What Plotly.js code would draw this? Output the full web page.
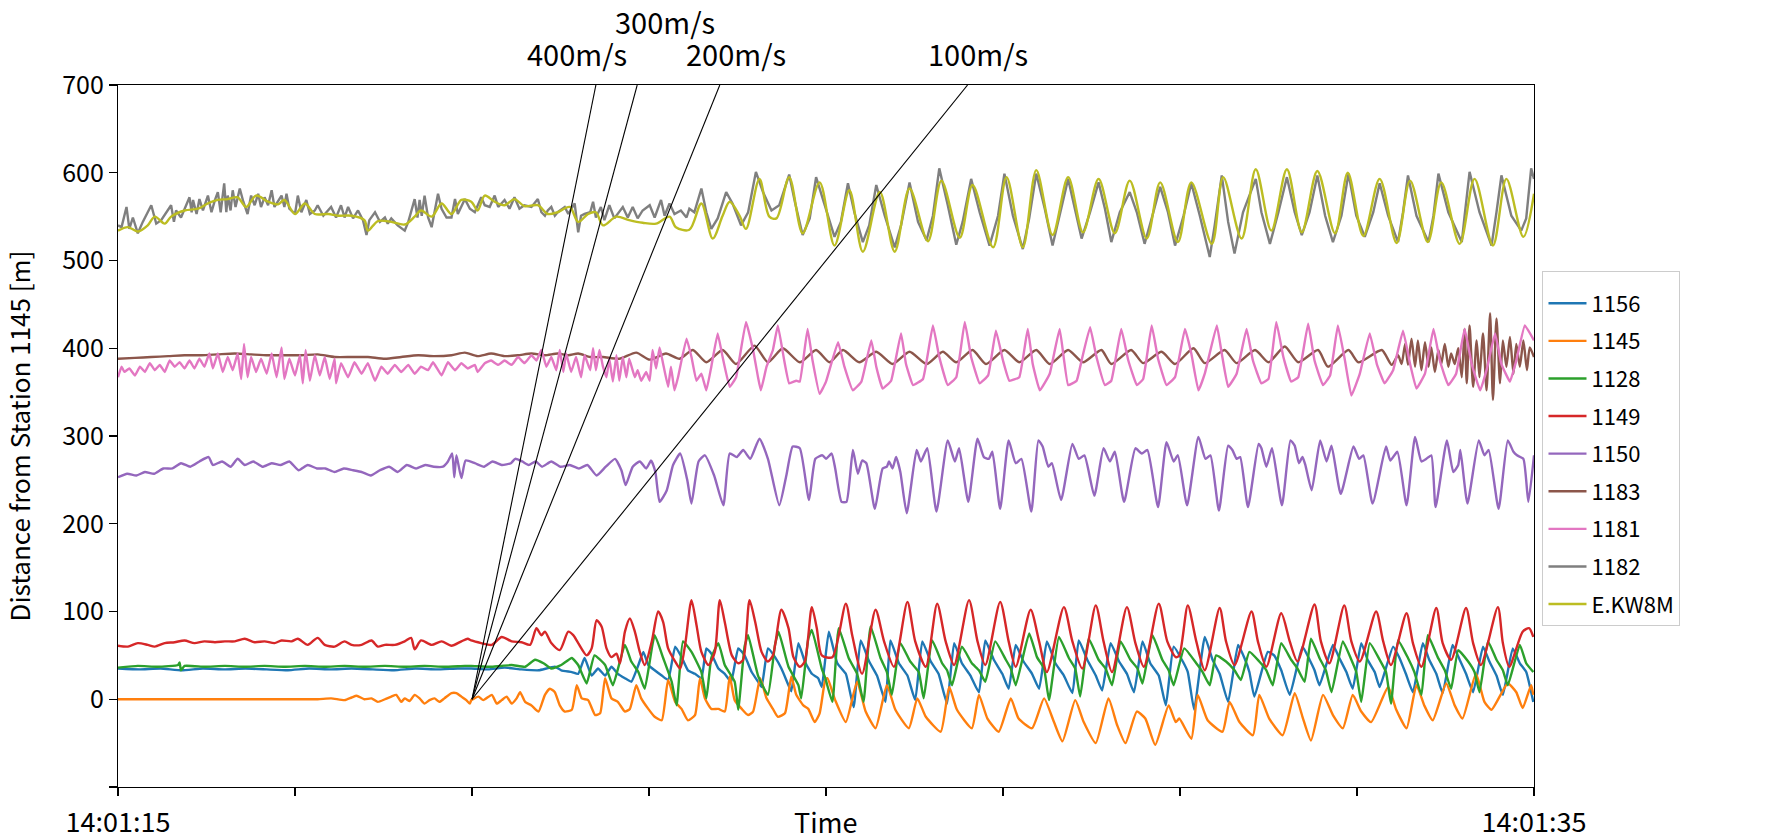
<!DOCTYPE html>
<html>
<head>
<meta charset="utf-8">
<script src="https://cdn.plot.ly/plotly-3.0.1.min.js"></script>
<style>html,body{margin:0;padding:0;background:#fff;}#chart{width:1769px;height:840px;}</style>
</head>
<body>
<div id="chart"></div>
<script>
// Time in seconds after 14:01:15, distance in metres from station 1145
const seriesNames = ['1156','1145','1128','1149','1150','1183','1181','1182','E.KW8M'];
const seriesColors = ['#1f77b4','#ff7f0e','#2ca02c','#d62728','#9467bd','#8c564b','#e377c2','#7f7f7f','#bcbd22'];

const t_1156 = [0,0.3,0.6,0.9,1.2,1.5,1.8,2.1,2.4,2.7,3.0,3.3,3.6,3.9,4.2,4.5,4.8,
4.99,5.23,5.46,5.70,5.94,6.17,6.26,6.41,6.50,6.59,6.69,6.78,6.88,6.97,7.06,7.16,7.25,7.35,7.42,7.49,7.58,7.68,7.77,7.87,7.96,8.05,8.15,8.24,8.31,8.38,8.48,8.57,8.66,8.76,8.85,8.95,9.04,9.09,9.18,9.28,9.37,9.47,9.51,9.61,9.70,9.80,9.89,9.94,
10.04,10.16,10.28,10.39,10.49,10.61,10.72,10.84,10.91,11.03,11.15,11.26,11.36,11.48,11.59,11.71,11.81,11.92,12.04,12.16,12.25,12.37,12.49,12.58,12.68,12.79,12.91,13.01,13.12,13.24,13.36,13.48,13.57,13.69,13.81,13.90,14.02,14.14,14.25,14.35,14.47,14.58,14.70,14.80,14.91,
15.04,15.11,15.20,15.35,15.46,15.56,15.68,15.82,15.91,15.98,16.05,16.24,16.33,16.43,16.55,16.73,16.83,16.90,16.97,17.16,17.25,17.35,17.44,17.56,17.65,17.75,17.82,18.01,18.10,18.19,18.29,18.43,18.52,18.62,18.71,18.85,18.95,19.04,19.14,19.28,19.37,19.47,19.56,19.70,19.80,19.89,19.99];
const d_1156 = [35,34,35,33,35,34,35,34,33,35,34,35,34,33,35,34,35,
35,34,36,34,33,37,33,31,29,47,27,35,27,37,29,24,20,39,54,39,33,27,22,60,48,33,29,24,58,52,35,29,20,58,50,31,20,14,58,48,35,16,9,64,43,29,24,14,
77,41,29,-9,67,43,27,-3,67,41,27,-1,66,43,29,-5,64,41,27,8,67,45,29,12,62,43,29,12,66,41,27,7,67,45,27,10,64,43,29,8,66,41,27,-7,60,
43,31,-12,71,45,29,-3,62,47,31,3,54,50,33,5,60,45,33,16,62,47,31,12,64,45,31,14,60,47,29,8,64,45,29,7,62,45,29,8,60,43,27,5,58,41,31,-3];

const t_1145 = [0,0.47,0.94,1.41,1.88,2.35,2.82,3.01,3.20,3.30,3.37,3.48,3.58,3.67,3.77,3.86,3.93,4.00,4.05,4.12,4.19,4.26,4.33,4.40,4.47,4.54,4.61,4.71,4.78,4.85,4.92,4.97,
4.99,5.09,5.16,5.28,5.35,5.42,5.49,5.56,5.63,5.68,5.75,5.84,5.94,6.03,6.10,6.17,6.24,6.31,6.41,6.48,6.55,6.64,6.74,6.81,6.88,6.97,7.06,7.16,7.23,7.32,7.39,7.49,7.58,7.68,7.77,7.87,7.96,8.05,8.15,8.22,8.29,8.38,8.48,8.57,8.64,8.71,8.81,8.90,8.97,9.07,9.16,9.25,9.32,9.42,9.51,9.58,9.68,9.75,9.84,9.91,9.99,
10.02,10.13,10.28,10.44,10.56,10.70,10.86,10.98,11.17,11.29,11.41,11.62,11.74,11.85,12.06,12.16,12.28,12.44,12.61,12.72,12.91,13.08,13.22,13.34,13.52,13.64,13.81,13.99,14.11,14.23,14.39,14.51,14.65,14.84,14.94,
14.99,15.16,15.25,15.39,15.60,15.70,15.84,16.03,16.12,16.26,16.45,16.62,16.73,16.85,17.02,17.16,17.30,17.44,17.56,17.70,17.94,18.05,18.20,18.34,18.45,18.57,18.76,18.88,18.99,19.18,19.30,19.40,19.63,19.75,19.84,19.96,19.99];
const d_1145 = [0,0,0,0,0,0,0,1,-1,2,4,0,1,-3,0,3,5,-3,1,-2,5,1,-5,-1,1,-3,1,7,7,3,-1,-5,
-1,3,-1,5,-5,-1,3,-5,1,8,-3,-7,-14,5,12,8,-7,-14,-12,16,1,-1,-18,-16,24,1,-3,-14,-11,16,1,-11,-20,-24,22,-3,-11,-24,-18,24,1,-11,-11,-14,26,-1,-11,-18,-14,24,1,-11,-20,-16,26,5,-7,-11,-26,-16,22,
24,-1,-26,20,-14,-33,16,-12,-33,1,-20,-37,14,-12,-33,5,-22,-37,1,-22,-33,1,-26,-48,-1,-26,-50,1,-29,-50,-14,-22,-52,-7,-26,
-22,-45,5,-24,-37,-3,-26,-41,5,-22,-41,7,-20,-47,5,-18,-33,5,-14,-26,14,-11,-33,16,-7,-24,18,-7,-22,29,-3,-12,18,8,-10,16,5];

const t_1128 = [0,0.28,0.56,0.85,0.87,0.89,0.94,1.22,1.51,1.79,2.07,2.35,2.64,2.92,3.20,3.48,3.77,4.05,4.33,4.61,4.90,
4.99,5.28,5.56,5.75,5.89,6.01,6.12,6.26,6.41,6.50,6.62,6.73,6.88,6.99,7.16,7.25,7.35,7.44,7.58,7.70,7.82,7.89,7.98,8.10,8.24,8.31,8.38,8.48,8.57,8.71,8.76,8.85,8.90,9.04,9.18,9.28,9.33,9.47,9.61,9.65,9.75,9.80,9.94,
9.99,10.09,10.18,10.32,10.44,10.53,10.63,10.77,10.86,10.93,11.05,11.19,11.31,11.38,11.50,11.64,11.71,11.78,11.92,12.06,12.16,12.25,12.39,12.54,12.61,12.68,12.87,12.98,13.08,13.15,13.29,13.43,13.52,13.59,13.71,13.85,13.95,14.04,14.16,14.30,14.40,14.47,14.61,14.75,14.84,14.91,
15.06,15.23,15.32,15.42,15.51,15.65,15.77,15.86,15.98,16.12,16.22,16.31,16.43,16.57,16.66,16.76,16.85,16.97,17.06,17.14,17.30,17.42,17.49,17.56,17.68,17.82,17.91,17.98,18.08,18.22,18.31,18.41,18.50,18.64,18.74,18.83,18.93,19.07,19.16,19.23,19.35,19.47,19.56,19.63,19.80,19.89,19.99];
const d_1128 = [36,38,37,39,42,33,38,37,38,37,38,37,38,37,38,37,38,37,38,37,38,
38,37,39,37,45,41,35,39,47,39,18,50,39,16,62,43,31,12,73,47,20,-7,66,54,31,1,47,64,39,20,-12,60,73,27,5,62,77,37,16,1,69,79,35,
24,-3,81,47,29,-3,83,47,31,5,64,43,31,1,67,41,33,16,60,41,33,20,66,45,35,16,75,48,35,-1,71,47,35,3,69,45,35,16,66,45,35,18,73,45,33,16,
58,41,31,16,50,43,33,22,54,43,33,16,64,45,35,20,69,47,33,8,66,45,31,-3,64,45,31,-5,67,47,31,5,73,48,33,12,56,43,31,8,66,45,33,16,62,41,31];

const t_1149 = [0,0.14,0.28,0.42,0.52,0.66,0.80,0.94,1.08,1.22,1.37,1.51,1.65,1.79,1.93,2.07,2.21,2.31,2.45,2.54,2.68,2.82,2.92,3.06,3.20,3.30,3.44,3.58,3.67,3.77,3.91,4.05,4.14,4.19,4.28,4.43,4.57,4.71,4.85,4.94,
4.99,5.13,5.28,5.42,5.56,5.70,5.82,5.91,5.98,6.03,6.12,6.24,6.36,6.43,6.50,6.62,6.69,6.76,6.83,6.90,6.97,7.04,7.09,7.16,7.23,7.30,7.37,7.44,7.54,7.63,7.70,7.77,7.87,7.94,8.01,8.10,8.17,8.24,8.34,8.43,8.50,8.57,8.67,8.76,8.83,8.92,9.00,9.09,9.18,9.25,9.37,9.47,9.54,9.63,9.70,9.80,9.87,9.94,
10.09,10.28,10.37,10.51,10.70,10.82,10.96,11.15,11.26,11.41,11.57,11.69,11.81,12.02,12.14,12.25,12.46,12.58,12.68,12.89,13.01,13.12,13.36,13.48,13.62,13.81,13.92,14.04,14.25,14.37,14.49,14.70,14.82,14.94,
14.99,15.11,15.23,15.35,15.56,15.65,15.77,16.01,16.10,16.22,16.43,16.55,16.66,16.90,16.99,17.11,17.32,17.42,17.54,17.77,17.87,17.98,18.20,18.29,18.41,18.62,18.71,18.83,19.04,19.14,19.25,19.49,19.56,19.65,19.84,19.93,19.99];
const d_1149 = [61,60,64,62,60,64,65,67,64,66,65,66,66,69,65,66,64,67,66,69,62,70,62,60,66,62,62,67,60,62,62,66,70,57,67,62,66,61,66,69,
67,64,62,71,66,65,62,81,73,77,64,56,77,73,64,50,58,90,83,58,48,52,41,77,92,77,54,39,66,100,88,58,43,35,62,113,85,54,39,54,113,88,50,41,45,113,88,54,43,50,102,81,48,37,43,105,81,50,
48,109,73,29,102,66,37,111,66,37,109,66,39,113,66,39,111,66,37,102,66,31,105,66,35,107,66,31,105,64,37,109,66,48,
50,107,66,33,104,66,39,100,66,37,98,66,43,108,66,41,107,66,43,100,66,39,98,64,37,104,64,45,104,64,39,105,64,37,77,81,71];

const t_1150 = [0,0.13,0.26,0.38,0.51,0.64,0.77,0.89,1.02,1.15,1.28,1.34,1.47,1.59,1.69,1.79,1.91,2.04,2.17,2.30,2.42,2.55,2.68,2.81,2.93,3.06,3.19,3.32,3.44,3.57,3.70,3.83,3.95,4.08,4.21,4.34,4.46,4.59,4.66,4.72,4.75,4.78,4.85,4.91,5.04,5.17,5.29,5.42,5.55,5.61,5.71,5.80,5.90,5.99,6.12,6.25,6.38,6.51,6.63,6.76,6.89,7.02,7.11,7.17,7.27,7.37,7.46,7.53,7.59,7.65,7.75,7.84,7.94,8.04,8.10,8.20,8.29,8.42,8.55,8.64,8.74,8.83,8.93,9.06,9.18,9.34,9.44,9.53,9.63,9.76,9.85,9.95,
10.00,10.08,10.13,10.22,10.29,10.38,10.45,10.51,10.57,10.69,10.80,10.86,10.89,10.94,10.99,11.05,11.14,11.28,11.34,11.43,11.56,11.72,11.82,11.88,12.01,12.14,12.23,12.30,12.35,12.46,12.58,12.68,12.76,12.90,13.00,13.06,13.14,13.19,13.32,13.48,13.57,13.65,13.79,13.92,14.01,14.08,14.21,14.37,14.46,14.54,14.69,14.81,14.91,14.97,15.10,15.26,15.36,15.43,15.55,15.68,15.74,15.80,15.85,15.96,16.11,16.15,16.22,16.30,16.44,16.56,16.62,16.68,16.73,16.77,16.86,16.98,17.07,17.14,17.27,17.45,17.53,17.59,17.72,17.91,17.97,18.07,18.20,18.32,18.41,18.48,18.55,18.61,18.77,18.86,18.93,18.96,19.06,19.22,19.30,19.36,19.50,19.63,19.71,19.76,19.85,19.92,20.0];
const d_1150 = [253,257,255,259,257,263,263,269,265,271,276,267,271,265,274,267,271,265,269,267,271,261,267,263,263,259,263,261,259,255,261,265,259,267,263,267,265,265,271,280,253,278,252,272,269,265,271,267,269,274,271,267,271,265,271,265,267,263,267,255,265,274,261,244,265,271,263,272,259,225,238,267,280,250,223,271,278,255,221,280,276,284,274,297,274,221,255,288,286,227,274,278,
274,280,263,225,225,284,257,272,269,217,263,265,271,263,276,259,212,284,271,286,214,295,271,286,225,297,276,274,282,217,295,269,274,214,295,288,265,269,227,291,274,278,232,286,271,282,225,286,280,284,219,293,271,278,221,299,274,278,215,289,284,274,276,219,291,286,265,286,221,295,289,269,276,267,238,295,271,289,234,288,274,278,223,288,272,282,221,299,271,274,278,219,295,259,267,284,223,295,278,284,217,295,282,278,274,225,278];

const t_1183 = [0,0.24,0.47,0.71,0.94,1.18,1.41,1.65,1.88,2.12,2.35,2.59,2.82,3.06,3.30,3.53,3.77,4.00,4.24,4.47,4.71,4.90,5.08,5.27,5.46,5.65,5.84,6.03,6.21,6.36,6.50,6.67,
6.85,7.08,7.32,7.51,7.74,7.93,8.12,8.31,8.54,8.73,8.99,9.18,9.39,9.63,9.86,10.05,10.24,10.47,10.71,10.94,11.18,11.42,11.65,11.84,12.07,12.26,12.52,12.73,12.97,13.16,
13.42,13.63,13.89,14.03,14.31,14.48,14.74,14.93,15.19,15.35,15.63,15.80,16.06,16.25,16.48,16.67,16.95,17.09,17.38,17.52,17.85,17.99,
18.08,18.13,18.18,18.22,18.27,18.32,18.36,18.41,18.46,18.51,18.55,18.60,18.65,18.69,18.74,18.79,18.83,18.88,18.93,18.98,19.02,19.05,19.09,19.14,19.19,19.23,19.28,19.33,19.38,19.42,19.47,19.52,19.56,19.61,19.66,19.71,19.75,19.80,19.85,19.90,19.94,20.0];
const d_1183 = [388,389,390,391,392,392,393,394,393,392,392,392,393,390,390,390,388,390,392,391,392,395,391,394,391,392,394,392,394,392,394,390,
390,388,395,387,394,388,398,384,398,382,403,384,400,384,398,384,398,384,396,382,396,382,396,384,398,382,398,384,398,382,
398,384,398,382,398,383,396,382,400,383,398,383,398,384,402,384,398,379,398,384,398,381,
392,382,405,381,411,379,409,375,407,379,401,373,398,382,405,379,394,382,400,367,422,360,426,356,409,367,417,352,440,341,434,360,409,379,413,371,405,379,409,375,401,390];

const t_1181 = [0,0.05,0.09,0.16,0.24,0.31,0.38,0.45,0.52,0.59,0.66,0.73,0.80,0.87,0.94,1.01,1.08,1.15,1.22,1.29,1.34,1.41,1.48,1.55,1.62,1.69,1.74,1.78,1.83,1.88,1.95,2.02,2.10,2.17,2.24,2.31,2.35,2.42,2.50,2.57,2.61,2.65,2.71,2.78,2.85,2.92,2.99,3.06,3.08,3.15,3.25,3.34,3.44,3.53,3.63,3.72,3.81,3.91,4.00,4.10,4.19,4.28,4.38,4.45,4.57,4.66,4.76,4.85,4.94,5.04,5.08,5.18,5.27,5.37,5.46,5.56,5.65,5.74,5.84,5.91,5.98,6.05,6.12,6.19,6.24,6.29,6.33,6.40,6.47,6.54,6.59,6.67,
6.71,6.75,6.80,6.85,6.90,6.94,6.99,7.04,7.08,7.13,7.18,7.22,7.30,7.34,7.39,7.46,7.51,7.55,7.60,7.65,7.70,7.77,7.81,7.86,7.91,8.03,8.10,8.17,8.24,8.31,8.38,8.47,8.54,8.64,8.73,8.87,8.97,9.04,9.08,9.16,9.25,9.32,9.41,9.48,9.58,9.63,9.74,9.81,9.91,10.00,10.17,10.26,10.38,10.50,10.64,10.71,10.80,10.92,11.06,11.13,11.23,11.37,11.51,11.60,11.72,11.84,11.96,12.05,12.17,12.29,12.40,12.50,12.59,12.73,12.85,12.92,13.02,13.16,13.30,
13.42,13.54,13.61,13.73,13.82,13.94,14.03,14.17,14.27,14.39,14.48,14.60,14.69,14.81,14.93,15.07,15.16,15.26,15.35,15.52,15.59,15.68,15.80,15.94,16.03,16.15,16.25,16.36,16.46,16.57,16.67,16.81,16.90,17.02,17.12,17.23,17.33,17.42,17.54,17.68,17.78,17.89,18.01,18.15,18.25,18.34,18.46,18.58,18.67,18.79,18.90,19.02,19.12,19.24,19.33,19.45,19.54,19.66,19.75,19.87,20.0];
const d_1181 = [367,379,373,377,369,379,373,383,375,381,373,386,379,384,377,386,377,388,379,394,377,394,373,390,375,394,365,405,367,390,373,388,371,394,367,401,365,388,369,392,360,398,363,392,369,390,365,388,360,383,367,384,371,383,363,379,371,381,373,381,371,379,375,384,369,384,375,383,377,381,373,383,386,381,386,381,390,383,392,386,398,379,390,375,398,373,394,373,390,367,392,375,
400,375,398,379,367,388,362,392,363,390,367,388,367,375,363,373,363,398,377,401,382,356,379,352,367,411,390,363,371,352,379,417,390,356,367,430,398,367,352,379,398,426,386,360,363,362,422,386,348,362,407,379,352,362,409,379,354,363,417,382,358,365,426,390,358,367,430,390,360,369,420,386,363,367,422,382,352,371,422,
358,363,386,424,390,358,363,422,386,358,365,426,388,358,367,422,394,352,371,426,394,356,371,422,386,360,365,430,390,362,367,428,386,358,369,426,386,346,371,417,382,360,375,420,382,354,371,422,386,358,371,422,382,352,375,417,382,362,386,426,409];

const t_1182 = [0,0.05,0.12,0.16,0.21,0.28,0.35,0.47,0.54,0.61,0.75,0.79,0.82,0.89,1.01,1.04,1.06,1.11,1.15,1.20,1.27,1.32,1.37,1.41,1.45,1.50,1.53,1.55,1.59,1.62,1.66,1.72,1.77,1.83,1.88,1.93,1.98,2.02,2.07,2.12,2.17,2.21,2.31,2.35,2.38,2.42,2.50,2.54,2.59,2.66,2.71,2.78,2.82,2.90,3.01,3.08,3.15,3.20,3.25,3.32,3.39,3.46,3.51,3.55,3.63,3.70,3.77,3.81,3.86,3.95,4.05,4.10,4.19,4.23,4.26,4.29,4.33,4.38,4.43,4.47,4.52,4.57,4.64,4.71,4.76,4.80,4.90,4.97,5.04,5.13,5.18,5.25,5.32,5.37,5.46,5.53,5.60,5.67,5.74,5.84,5.93,5.98,6.03,6.07,6.12,6.17,6.21,6.31,6.36,6.45,6.50,6.54,6.59,6.67,
6.71,6.75,6.82,6.87,6.94,7.01,7.13,7.20,7.27,7.34,7.41,7.51,7.58,7.67,7.72,7.79,7.86,7.95,8.03,8.07,8.14,
8.24,8.31,8.38,8.47,8.59,8.68,8.80,8.90,9.01,9.11,9.23,9.34,9.48,9.56,9.67,9.77,9.86,9.98,10.12,10.21,10.31,10.40,10.52,10.61,10.71,10.83,10.97,11.06,11.18,11.30,11.42,11.51,11.60,11.72,11.84,11.93,12.05,12.17,12.31,12.43,12.52,12.64,12.78,12.87,12.97,13.09,13.20,
13.42,13.51,13.61,13.73,13.85,13.94,14.03,14.15,14.29,14.39,14.50,14.60,14.72,14.83,14.93,15.05,15.16,15.28,15.42,15.49,15.59,15.68,15.77,15.89,16.07,16.15,16.27,16.39,16.51,16.62,16.72,16.83,16.94,17.05,17.16,17.28,17.38,17.49,17.61,17.73,17.82,17.94,18.08,18.15,18.22,18.34,18.51,18.58,18.65,18.79,18.98,19.02,19.09,19.23,19.40,19.47,19.54,19.68,19.82,19.89,19.96,20.0];
const d_1182 = [540,538,561,536,549,531,544,563,542,546,563,544,557,549,572,555,569,553,570,557,574,555,569,578,555,588,555,574,557,580,561,582,567,553,574,563,576,561,572,563,580,561,574,561,576,559,553,574,555,569,553,557,563,551,561,549,563,549,561,548,557,546,529,546,555,544,549,542,548,540,534,544,570,549,569,551,574,549,538,555,576,559,549,549,570,553,570,559,555,572,563,561,574,561,569,559,572,559,563,561,570,555,551,557,561,551,555,561,553,565,532,551,553,555,
567,549,561,546,563,548,561,549,561,548,557,563,549,569,551,565,553,557,549,559,555,
582,555,536,548,578,565,540,555,601,578,557,563,598,567,529,548,595,563,527,544,588,555,521,540,586,551,515,540,589,544,523,551,605,563,518,544,593,555,517,551,599,551,513,548,599,559,517,
593,559,525,555,589,559,521,555,578,555,519,548,584,555,517,551,588,551,504,540,597,544,508,555,593,555,519,555,595,555,529,555,597,551,521,551,599,551,527,555,588,551,521,555,597,551,521,551,599,555,521,551,601,555,517,555,597,551,534,548,605,593];

const t_EKW8M = [0,0.14,0.28,0.42,0.52,0.66,0.75,0.94,1.13,1.27,1.41,1.55,1.69,1.81,1.95,2.12,2.26,2.35,2.50,2.64,2.78,2.97,3.11,3.30,3.48,3.53,3.67,3.86,4.05,4.19,4.28,4.43,4.57,4.71,4.85,4.99,5.08,5.18,5.32,5.46,5.60,5.74,5.93,6.07,6.21,6.38,6.50,6.64,
6.75,6.85,7.04,7.22,7.41,7.60,7.79,7.88,8.07,8.24,8.40,8.54,8.64,8.78,8.87,9.06,9.20,9.30,9.48,9.67,9.91,10.12,10.33,10.52,10.76,10.97,11.18,11.44,11.63,11.89,12.07,12.36,12.55,12.78,12.97,13.20,
13.42,13.63,13.85,14.08,14.29,14.53,14.72,14.97,15.16,15.45,15.61,15.87,16.07,16.29,16.51,16.72,16.94,17.19,17.37,17.59,17.82,18.06,18.25,18.50,18.69,18.95,19.16,19.42,19.61,19.85,20.0];
const d_EKW8M = [534,538,533,540,550,542,550,557,559,565,569,570,572,561,574,567,564,569,553,565,553,553,551,551,546,534,545,544,541,550,557,550,565,553,569,567,557,574,567,563,570,562,563,553,555,561,544,553,
555,540,550,546,543,542,550,538,535,565,525,551,567,551,536,593,550,548,595,531,589,517,580,510,578,510,582,522,591,526,586,515,595,515,603,529,
595,532,593,531,591,525,589,521,589,519,595,525,604,534,604,532,602,531,600,528,593,520,591,521,589,519,593,517,593,527,576];

// Apparent propagation velocities drawn from the 1145 onset
const velocities = [400, 300, 200, 100];
const velocityLabels = ['400m/s', '300m/s', '200m/s', '100m/s'];
const onsetTime = 5;       // 14:01:20
const onsetDistance = 0;
const topDistance = 700;

// axis ticks
const xTickVals = [0, 2.5, 5, 7.5, 10, 12.5, 15, 17.5, 20];
const xTickText = ['14:01:15', '', '', '', '', '', '', '', '14:01:35'];
const yTickVals = [-100, 0, 100, 200, 300, 400, 500, 600, 700];
const yTickText = ['', '0', '100', '200', '300', '400', '500', '600', '700'];

const seriesT = [t_1156, t_1145, t_1128, t_1149, t_1150, t_1183, t_1181, t_1182, t_EKW8M];
const seriesD = [d_1156, d_1145, d_1128, d_1149, d_1150, d_1183, d_1181, d_1182, d_EKW8M];
const smoothSeries = {'1156': 0.4, '1145': 0.5, '1128': 0.4, '1149': 0.7, '1150': 0.5, '1183': 0.6, '1181': 0.3, 'E.KW8M': 0.9};

const FONT = 'Noto Sans CJK JP, Noto Sans, DejaVu Sans, sans-serif';

const traces = seriesNames.map((name, i) => {
  const sm = smoothSeries[name];
  return {
    type: 'scatter', mode: 'lines', name: name,
    x: seriesT[i], y: seriesD[i],
    legendgroup: 'g' + i,
    line: sm ? {color: seriesColors[i], width: 2.4, shape: 'spline', smoothing: sm}
             : {color: seriesColors[i], width: 2.4}
  };
});

velocities.forEach((v) => {
  traces.push({
    type: 'scatter', mode: 'lines', showlegend: false, hoverinfo: 'skip',
    x: [onsetTime, onsetTime + (topDistance - onsetDistance) / v],
    y: [onsetDistance, topDistance],
    line: {color: '#000000', width: 1.1}
  });
});

// label placement (layout positions in axis / paper units)
const labelX = [6.48, 7.73, 8.73, 12.15];
const labelY = [1.0456, 1.0915, 1.0456, 1.0456];

const annotations = velocityLabels.map((txt, i) => ({
  text: txt, x: labelX[i], y: labelY[i], xref: 'x', yref: 'paper',
  showarrow: false, xanchor: 'center', yanchor: 'middle',
  font: {family: FONT, size: 29, color: '#000'}
}));
annotations.push({
  text: 'Time', xref: 'paper', yref: 'paper', x: 0.5, y: -0.049,
  showarrow: false, xanchor: 'center', yanchor: 'middle',
  font: {family: FONT, size: 27, color: '#000'}
});

const layout = {
  width: 1769, height: 840,
  margin: {l: 118, r: 235, t: 85, b: 53, pad: 0},
  paper_bgcolor: '#ffffff', plot_bgcolor: '#ffffff',
  font: {family: FONT, color: '#000'},
  showlegend: true,
  legend: {
    x: 1.006, y: 0.735, xanchor: 'left', yanchor: 'top',
    bordercolor: '#cccccc', borderwidth: 1, bgcolor: '#ffffff',
    font: {family: FONT, size: 22, color: '#000'},
    title: {text: ' ', font: {family: FONT, size: 8, color: '#000'}},
    itemwidth: 38,
    tracegroupgap: 6, traceorder: 'grouped'
  },
  xaxis: {
    range: [0, 20], showgrid: false, zeroline: false,
    showline: true, mirror: true, linecolor: '#000', linewidth: 1.2,
    ticks: 'outside', ticklen: 8, tickwidth: 1.2, tickcolor: '#000',
    tickmode: 'array', tickvals: xTickVals, ticktext: xTickText,
    ticklabelstandoff: 3,
    tickfont: {family: FONT, size: 27, color: '#000'}
  },
  yaxis: {
    range: [-100, 700], showgrid: false, zeroline: false,
    showline: true, mirror: true, linecolor: '#000', linewidth: 1.2,
    ticks: 'outside', ticklen: 8, tickwidth: 1.2, tickcolor: '#000',
    tickmode: 'array', tickvals: yTickVals, ticktext: yTickText,
    tickfont: {family: FONT, size: 25, color: '#000'},
    title: {text: 'Distance from Station 1145 [m]', font: {family: FONT, size: 26, color: '#000'}, standoff: 40}
  },
  annotations: annotations
};

Plotly.newPlot('chart', traces, layout, {displayModeBar: false, staticPlot: true});
</script>
</body>
</html>
